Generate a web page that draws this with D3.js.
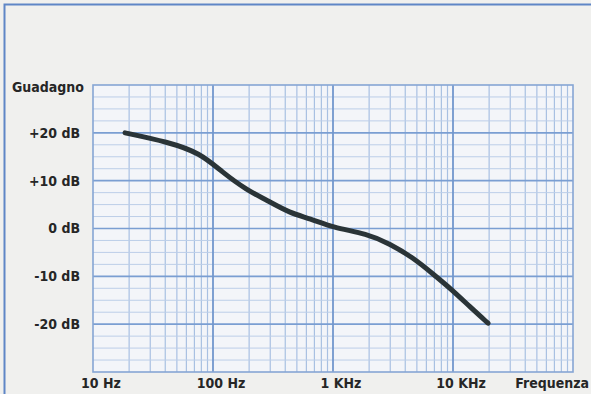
<!DOCTYPE html>
<html>
<head>
<meta charset="utf-8">
<script src="https://cdn.jsdelivr.net/npm/d3@7"></script>
<style>
  body { margin: 0; background: #f0f0ee; }
  svg { display: block; }
  text { font-family: "Liberation Sans Narrow", "DejaVu Sans Condensed", sans-serif; font-weight: bold; fill: #262626; }
</style>
</head>
<body>
<script>
// frequency response
var freqHz = [18.5, 42, 78, 119, 192, 282, 438, 643, 1000, 1920, 2985, 4640, 6810, 10000, 13870, 19580];
var gainDb = [20.0, 18.1, 15.8, 11.8, 8.0, 5.9, 3.2, 2.1, 0.2, -1.1, -3.2, -6.1, -9.5, -13.0, -16.4, -19.8];

var xTicks = [10, 100, 1000, 10000];
var xTickLabels = ["10 Hz", "100 Hz", "1 KHz", "10 KHz"];
var yTicks = [20, 10, 0, -10, -20];
var yTickLabels = ["+20 dB", "+10 dB", "0 dB", "-10 dB", "-20 dB"];

var W = 591, H = 394;
var margin = {top: 85, right: 18, bottom: 22, left: 93},
    width = W - margin.left - margin.right,
    height = H - margin.top - margin.bottom;

var x = d3.scaleLog().domain([10, 100000]).range([0, width]);
var y = d3.scaleLinear().domain([-30, 30]).range([height, 0]);

var svg = d3.select("body").append("svg")
    .attr("width", W)
    .attr("height", H);

// outer frame
svg.append("rect")
    .attr("x", 4.5).attr("y", 4.5)
    .attr("width", W + 10).attr("height", H + 10)
    .attr("fill", "#f0f0ee")
    .attr("stroke", "#5f86c6")
    .attr("stroke-width", 2);

var g = svg.append("g")
    .attr("transform", "translate(" + margin.left + "," + margin.top + ")");

// plot background
g.append("rect")
    .attr("width", width).attr("height", height)
    .attr("fill", "#f3f5f9");

// minor vertical lines (2..9 in each decade)
var minorX = [];
[10, 100, 1000, 10000].forEach(function(d) {
  for (var k = 2; k < 10; k++) minorX.push(d * k);
});
g.selectAll(".vminor")
    .data(minorX)
  .enter().append("line")
    .attr("x1", function(d) { return x(d); })
    .attr("x2", function(d) { return x(d); })
    .attr("y1", 0).attr("y2", height)
    .attr("stroke", "#a8c0e2")
    .attr("stroke-width", 1.2);

// minor horizontal lines every 2.5 dB
var minorY = d3.range(-30, 30.1, 2.5).filter(function(d) { return d % 10 !== 0; });
g.selectAll(".hminor")
    .data(minorY)
  .enter().append("line")
    .attr("x1", 0).attr("x2", width)
    .attr("y1", function(d) { return y(d); })
    .attr("y2", function(d) { return y(d); })
    .attr("stroke", "#bccee8")
    .attr("stroke-width", 1);

// major horizontal lines
g.selectAll(".hmajor")
    .data([-20, -10, 0, 10, 20])
  .enter().append("line")
    .attr("x1", 0).attr("x2", width)
    .attr("y1", function(d) { return y(d); })
    .attr("y2", function(d) { return y(d); })
    .attr("stroke", "#7a9ed2")
    .attr("stroke-width", 1.6);

// major vertical lines (decades)
g.selectAll(".vmajor")
    .data([100, 1000, 10000])
  .enter().append("line")
    .attr("x1", function(d) { return x(d); })
    .attr("x2", function(d) { return x(d); })
    .attr("y1", 0).attr("y2", height)
    .attr("stroke", "#7297cc")
    .attr("stroke-width", 1.8);

// plot border
g.append("rect")
    .attr("width", width).attr("height", height)
    .attr("fill", "none")
    .attr("stroke", "#86a6d4")
    .attr("stroke-width", 1.6);

// the response curve
var line = d3.line()
    .x(function(d, i) { return x(freqHz[i]); })
    .y(function(d, i) { return y(gainDb[i]); })
    .curve(d3.curveBasis);

g.append("path")
    .datum(gainDb)
    .attr("d", line)
    .attr("fill", "none")
    .attr("stroke", "#2a3437")
    .attr("stroke-width", 5)
    .attr("stroke-linecap", "round");

// y tick labels
g.selectAll(".ylab")
    .data(yTicks)
  .enter().append("text")
    .attr("x", -13)
    .attr("y", function(d) { return y(d); })
    .attr("dy", "0.35em")
    .attr("text-anchor", "end")
    .style("font-size", "14px")
    .text(function(d, i) { return yTickLabels[i]; });

g.append("text")
    .attr("x", -9)
    .attr("y", 7)
    .attr("text-anchor", "end")
    .style("font-size", "14px")
    .text("Guadagno");

// x tick labels
g.selectAll(".xlab")
    .data(xTicks)
  .enter().append("text")
    .attr("x", function(d) { return x(d) + 8; })
    .attr("y", height + 16)
    .attr("text-anchor", "middle")
    .style("font-size", "14px")
    .text(function(d, i) { return xTickLabels[i]; });

g.append("text")
    .attr("x", width + 16)
    .attr("y", height + 16)
    .attr("text-anchor", "end")
    .style("font-size", "14px")
    .text("Frequenza");
</script>
</body>
</html>
